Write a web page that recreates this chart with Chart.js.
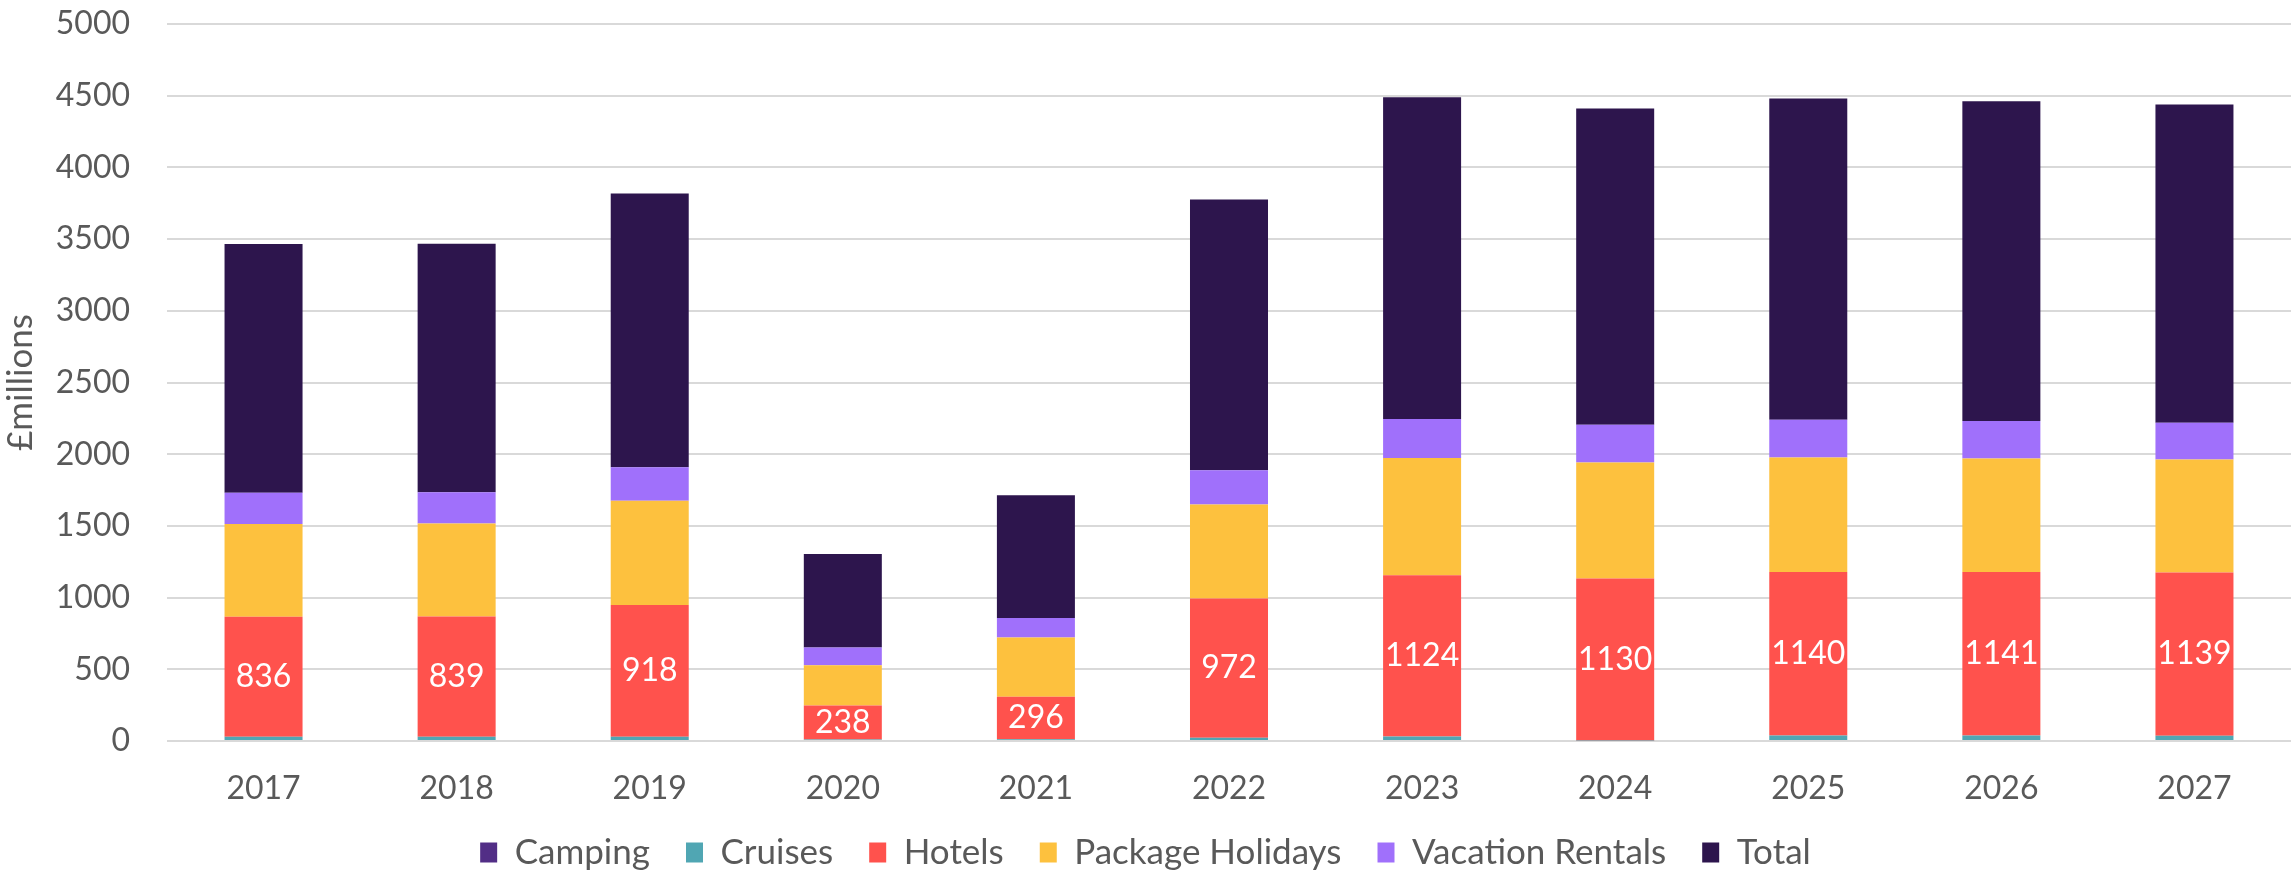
<!DOCTYPE html>
<html>
<head>
<meta charset="utf-8">
<script src="https://cdn.jsdelivr.net/npm/chart.js@4"></script>
<style>
  html, body { margin: 0; padding: 0; background: #fff; }
  #wrap { width: 2295px; height: 875px; }
</style>
</head>
<body>
<div id="wrap"><canvas id="chart"></canvas></div>
<script>
const years = ['2017', '2018', '2019', '2020', '2021', '2022', '2023', '2024', '2025', '2026', '2027'];

const camping = [0, 0, 0, 0, 0, 0, 0, 0, 0, 0, 0];
const cruises = [30, 30, 30, 10, 12, 22, 32, 3, 38, 38, 36];
const hotels = [836, 839, 918, 238, 296, 972, 1124, 1130, 1140, 1141, 1139];
const packageHolidays = [647, 647, 727, 280, 414, 655, 817, 809, 799, 791, 788];
const vacationRentals = [218, 218, 234, 124, 135, 239, 272, 263, 263, 261, 256];
const total = [1734, 1734, 1909, 652, 857, 1888, 2245, 2205, 2240, 2231, 2219];

const yTicks = { min: 0, max: 5000, step: 500 };

const FONT = 'Lato, "Open Sans", sans-serif';
const TEXT = '#595959';

// white value labels in the middle of the Hotels segments
const hotelLabels = {
    id: 'hotelLabels',
    afterDatasetsDraw(chart) {
        const ctx = chart.ctx;
        const meta = chart.getDatasetMeta(2);
        ctx.save();
        ctx.font = '32px ' + FONT;
        ctx.fillStyle = '#ffffff';
        ctx.textAlign = 'center';
        ctx.textBaseline = 'middle';
        meta.data.forEach((bar, i) => {
            ctx.fillText(String(hotels[i]), bar.x, (bar.y + bar.base) / 2);
        });
        ctx.restore();
    }
};

// pull the legend up a little so it sits closer to the axis labels
const legendNudge = {
    id: 'legendNudge',
    afterLayout(chart) {
        if (chart.legend) {
            chart.legend.top -= 8;
            chart.legend.bottom -= 8;
        }
    }
};

const ctx = document.getElementById('chart').getContext('2d');

new Chart(ctx, {
    type: 'bar',
    data: {
        labels: years,
        datasets: [
            { label: 'Camping', data: camping, backgroundColor: '#522E86' },
            { label: 'Cruises', data: cruises, backgroundColor: '#50A6B3' },
            { label: 'Hotels', data: hotels, backgroundColor: '#FF524D' },
            { label: 'Package Holidays', data: packageHolidays, backgroundColor: '#FDC13E' },
            { label: 'Vacation Rentals', data: vacationRentals, backgroundColor: '#A070FB' },
            { label: 'Total', data: total, backgroundColor: '#2D154D' }
        ]
    },
    options: {
        responsive: true,
        maintainAspectRatio: false,
        animation: false,
        categoryPercentage: 1,
        barPercentage: 0.404,
        layout: {
            padding: { left: 0, right: 4, top: 24, bottom: -13 }
        },
        scales: {
            x: {
                stacked: true,
                afterFit: function(scale) {
                    scale.height = 66;
                },
                grid: { display: false, drawTicks: false },
                border: { display: false },
                ticks: {
                    color: TEXT,
                    font: { family: FONT, size: 32 },
                    padding: 28
                }
            },
            y: {
                stacked: true,
                min: yTicks.min,
                max: yTicks.max,
                afterFit: function(scale) {
                    scale.width = 167;
                    scale.paddingTop = 0;
                    scale.paddingBottom = 0;
                },
                grid: {
                    color: '#D9D9D9',
                    lineWidth: 2,
                    drawTicks: false
                },
                border: { display: false },
                ticks: {
                    stepSize: yTicks.step,
                    color: TEXT,
                    font: { family: FONT, size: 32 },
                    padding: 37,
                    callback: function(value) {
                        return String(value);
                    }
                },
                title: {
                    display: true,
                    text: '£millions',
                    color: TEXT,
                    font: { family: FONT, size: 35 },
                    padding: { top: 0, bottom: 0 }
                }
            }
        },
        plugins: {
            legend: {
                position: 'bottom',
                labels: {
                    color: TEXT,
                    font: { family: FONT, size: 35 },
                    boxWidth: 17,
                    boxHeight: 20,
                    padding: 36
                }
            },
            tooltip: { enabled: false }
        }
    },
    plugins: [hotelLabels, legendNudge]
});
</script>
</body>
</html>
